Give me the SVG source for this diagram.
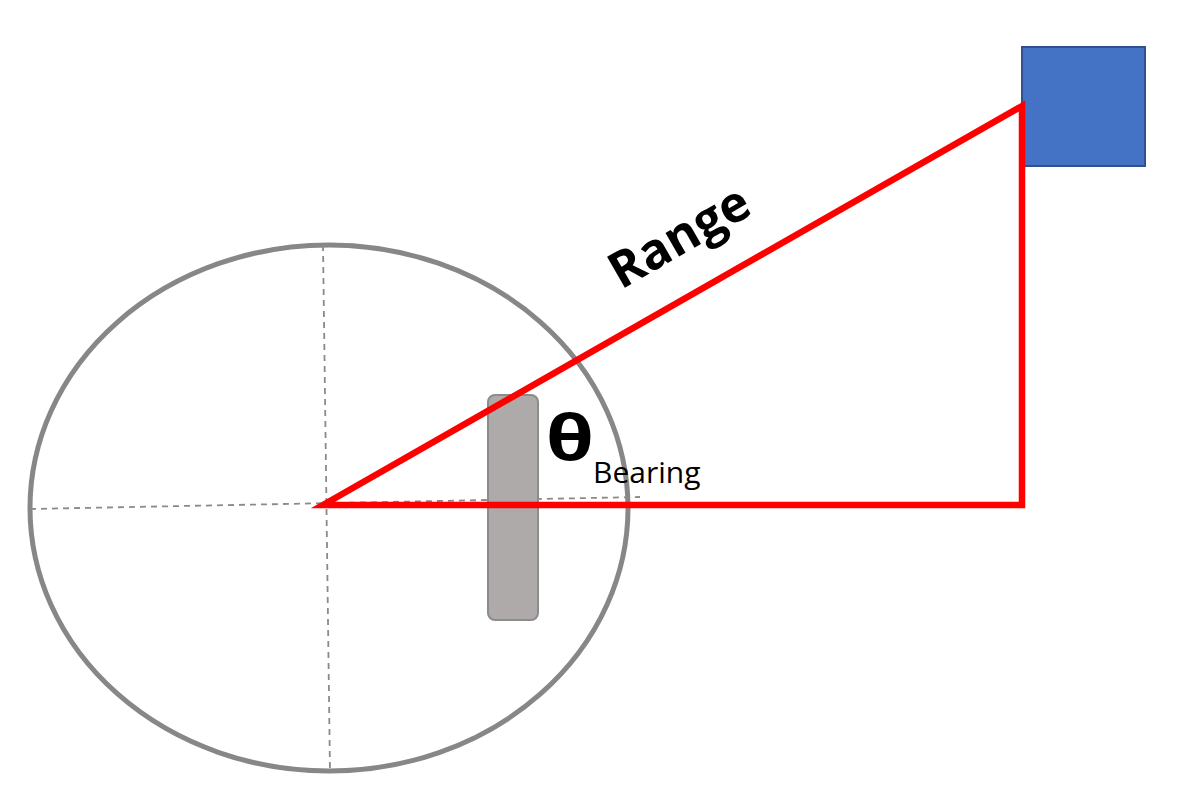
<svg xmlns="http://www.w3.org/2000/svg" width="1186" height="802" viewBox="0 0 1186 802">
<style>
.dash{stroke:#8a8a8a;stroke-width:1.8;stroke-dasharray:6 5;fill:none}
.red{stroke:#ff0000;stroke-width:6.5;fill:none;stroke-linejoin:miter}
text{font-family:"Open Sans","Liberation Sans",sans-serif;fill:#000}
</style>
<rect width="1186" height="802" fill="#fff"/>
<g id="robot">
<ellipse cx="329" cy="508" rx="299" ry="263" fill="none" stroke="#878787" stroke-width="5"/>
</g>
<g id="axes">
<line class="dash" x1="323" y1="245" x2="330" y2="772"/>
<line class="dash" x1="30" y1="509" x2="640" y2="497"/>
</g>
<g id="sensor">
<rect x="488" y="395" width="50" height="225" rx="7" fill="#aeaaaa" stroke="#8c8c8c" stroke-width="2"/>
</g>
<g id="target">
<rect x="1022" y="47" width="123" height="119" fill="#4472c4" stroke="#2f528f" stroke-width="2"/>
</g>
<g id="connectors">
<polygon class="red" points="323,505 1022,106 1022,505"/>
</g>
<g id="labels">
<text x="0" y="0" font-size="50" font-weight="bold" transform="translate(621,290) rotate(-30)">Range</text>
<text x="0" y="0" font-size="62" font-weight="bold" transform="translate(546,460) scale(1.25,1)">θ</text>
<text x="593" y="483" font-size="30">Bearing</text>
</g>
</svg>
